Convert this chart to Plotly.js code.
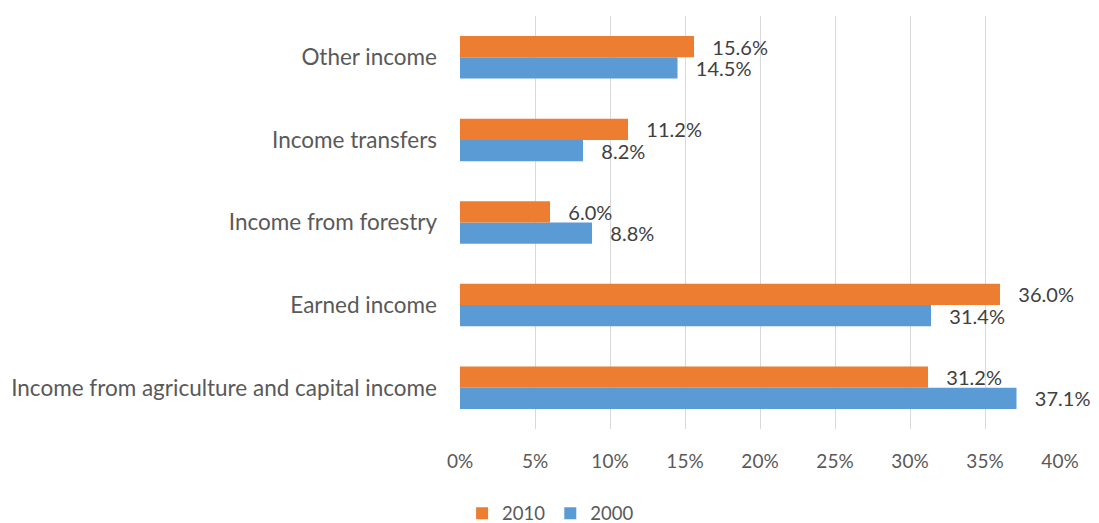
<!DOCTYPE html>
<html>
<head>
<meta charset="utf-8">
<script src="https://cdn.plot.ly/plotly-3.0.1.min.js"></script>
<style>html,body{margin:0;padding:0;background:#fff;}#chart{width:1099px;height:523px;}</style>
</head>
<body>
<div id="chart"></div>
<script>
const categories = [
  "Income from agriculture and capital income",
  "Earned income",
  "Income from forestry",
  "Income transfers",
  "Other income"
];
const values2000 = [37.1, 31.4, 8.8, 8.2, 14.5];
const values2010 = [31.2, 36.0, 6.0, 11.2, 15.6];
const tickValues = [0, 5, 10, 15, 20, 25, 30, 35, 40];
const tickLabels = ["0%", "5%", "10%", "15%", "20%", "25%", "30%", "35%", "40%"];

const pad = "\u00A0\u00A0\u00A0";
const fmt = v => pad + v.toFixed(1) + "%";
const FONT = "Lato, 'Open Sans', sans-serif";

const traces = [
  {
    type: "bar", orientation: "h", name: "2000",
    y: categories, x: values2000,
    text: values2000.map(fmt), textposition: "outside", cliponaxis: false,
    constraintext: "none",
    textfont: {family: FONT, size: 20, color: "#404040"},
    marker: {color: "#5B9BD5"}, hoverinfo: "x+y"
  },
  {
    type: "bar", orientation: "h", name: "2010",
    y: categories, x: values2010,
    text: values2010.map(fmt), textposition: "outside", cliponaxis: false,
    constraintext: "none",
    textfont: {family: FONT, size: 20, color: "#404040"},
    marker: {color: "#ED7D31"}, hoverinfo: "x+y"
  }
];

const layout = {
  width: 1099, height: 523,
  margin: {l: 460, r: 39, t: 16, b: 94, pad: 0, autoexpand: false},
  paper_bgcolor: "#fff", plot_bgcolor: "#fff",
  barmode: "group", bargap: 0.485, bargroupgap: 0,
  font: {family: FONT, size: 19, color: "#595959"},
  xaxis: {
    range: [0, 40], tickvals: tickValues, ticktext: tickLabels,
    showgrid: true, gridcolor: "#D9D9D9", gridwidth: 1,
    zeroline: false, showline: false, ticks: "",
    ticklabelstandoff: 19,
    tickfont: {family: FONT, size: 19, color: "#595959"},
    fixedrange: true, automargin: false
  },
  yaxis: {
    type: "category", showgrid: false, zeroline: false, showline: false, ticks: "",
    ticklabelstandoff: 22,
    tickfont: {family: FONT, size: 22.5, color: "#595959"},
    fixedrange: true, automargin: false
  },
  showlegend: true,
  legend: {
    orientation: "h", traceorder: "reversed",
    xref: "paper", yref: "paper",
    x: 0.151, xanchor: "center", y: -0.205, yanchor: "middle",
    font: {family: FONT, size: 18.5, color: "#595959"},
    itemwidth: 30, tracegroupgap: 0
  }
};

Plotly.newPlot("chart", traces, layout, {displayModeBar: false, staticPlot: true});
</script>
</body>
</html>
